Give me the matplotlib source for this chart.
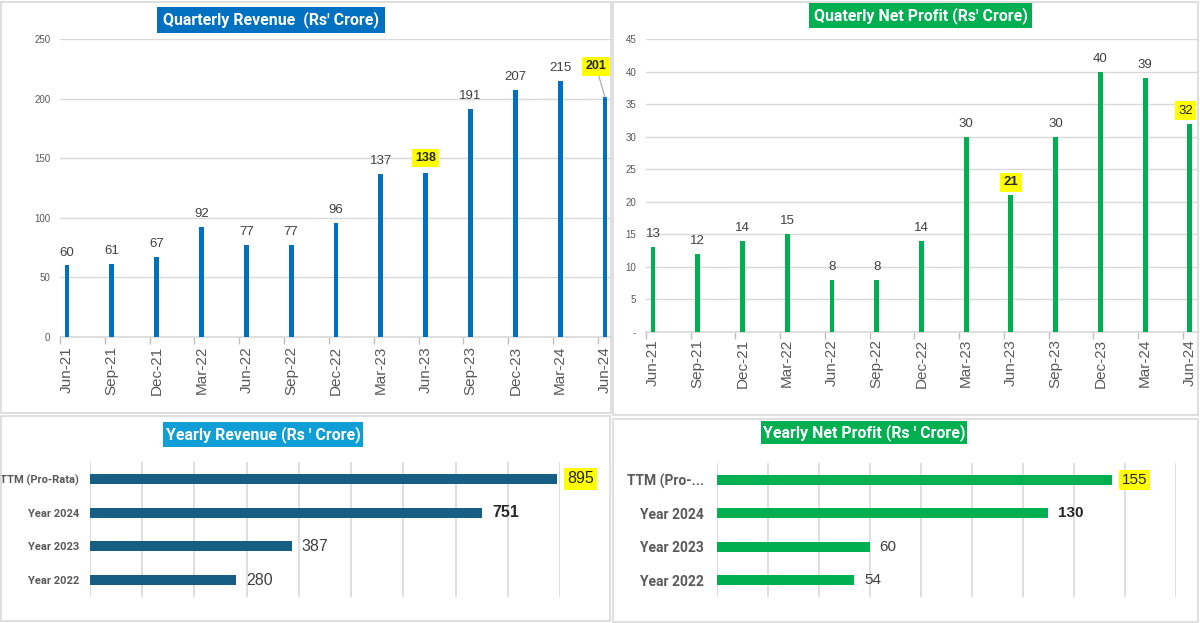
import numpy as np
import matplotlib
matplotlib.use('Agg')
import matplotlib.pyplot as plt
import matplotlib.patches as patches
from matplotlib.transforms import Bbox, TransformedBbox

plt.rcParams['font.family'] = ['Liberation Sans', 'DejaVu Sans']

# data
quarters = ['Jun-21', 'Sep-21', 'Dec-21', 'Mar-22', 'Jun-22', 'Sep-22', 'Dec-22',
            'Mar-23', 'Jun-23', 'Sep-23', 'Dec-23', 'Mar-24', 'Jun-24']
q_revenue = [60, 61, 67, 92, 77, 77, 96, 137, 138, 191, 207, 215, 201]
q_profit = [13, 12, 14, 15, 8, 8, 14, 30, 21, 30, 40, 39, 32]
years_rev = ['TTM (Pro-Rata)', 'Year 2024', 'Year 2023', 'Year 2022']
years_pro = ['TTM (Pro-...', 'Year 2024', 'Year 2023', 'Year 2022']
y_revenue = [895, 751, 387, 280]
y_profit = [155, 130, 60, 54]

W, H = 1200, 623
GRID = '#D9D9D9'
TXT = '#404040'
NARROW = ['Roboto', 'Liberation Sans', 'DejaVu Sans']


def rect(x0, y0, x1, y1):
    # pixel box (top-left origin) -> figure fraction [l, b, w, h]
    return [x0 / W, 1 - y1 / H, (x1 - x0) / W, (y1 - y0) / H]


fig = plt.figure(figsize=(12, 6.23), dpi=100)
fig.patch.set_facecolor('white')


def border(x0, y0, x1, y1):
    l, b, w, h = rect(x0, y0, x1, y1)
    fig.add_artist(patches.Rectangle((l, b), w, h, transform=fig.transFigure,
                                     fill=False, edgecolor=GRID, linewidth=1.2))
    return TransformedBbox(Bbox.from_extents(l, b, l + w, b + h), fig.transFigure)


def title_box(x0, y0, x1, y1, text, color, size=11.4):
    l, b, w, h = rect(x0, y0, x1, y1)
    fig.add_artist(patches.Rectangle((l, b), w, h, transform=fig.transFigure,
                                     facecolor=color, edgecolor='none'))
    fig.text(l + w / 2, b + h / 2, text, ha='center', va='center', color='white',
             fontsize=size, fontweight='bold', family=NARROW)


def quarterly(ax, values, color, ymax, step, right, pad_x, zero_dash):
    x = np.arange(len(values))
    ax.bar(x, values, width=0.11, color=color, zorder=3)
    ax.set_xlim(-0.156, right)
    ax.set_ylim(0, ymax)
    yt = np.arange(0, ymax + 1, step)
    ax.set_yticks(yt)
    ax.set_yticklabels(['-' if (v == 0 and zero_dash) else str(v) for v in yt])
    ax.grid(axis='y', color=GRID, linewidth=1, zorder=0)
    for s in ['top', 'right', 'left']:
        ax.spines[s].set_visible(False)
    ax.spines['bottom'].set_color(GRID)
    ax.spines['bottom'].set_linewidth(1.2)
    ax.set_xticks(x)
    ax.set_xticklabels(quarters, rotation=90, fontsize=11, color='#595959')
    ax.set_xticks(x - 0.156, minor=True)
    ax.tick_params(axis='x', which='major', length=0, pad=pad_x)
    ax.tick_params(axis='x', which='minor', length=5, color='#BFBFBF', width=1)
    ax.tick_params(axis='y', length=0, pad=7, labelsize=7, labelcolor='#595959')
    return x


# ---------------- top left: quarterly revenue ----------------
bb1 = border(1, 2, 611, 413)
ax1 = fig.add_axes(rect(60, 39, 611, 337))
x = quarterly(ax1, q_revenue, '#0070C0', 250, 50, 12.134, 6.5, False)
for i, v in enumerate(q_revenue):
    if i == 8:
        ax1.annotate(str(v), (i, v), xytext=(0, 6), textcoords='offset points',
                     ha='center', va='bottom', fontsize=9, fontweight='bold', color='#262626',
                     bbox=dict(boxstyle='square,pad=0.25', facecolor='#FFFF00', edgecolor='none'))
    elif i == 12:
        ax1.annotate(str(v), (i, v), xytext=(i - 0.2, v + 26), textcoords='data',
                     ha='center', va='center', fontsize=9, fontweight='bold', color='#262626',
                     bbox=dict(boxstyle='square,pad=0.25', facecolor='#FFFF00', edgecolor='none'),
                     arrowprops=dict(arrowstyle='-', color='#A6A6A6', lw=0.8,
                                     shrinkA=0, shrinkB=0), annotation_clip=False)
    else:
        ax1.annotate(str(v), (i, v), xytext=(0, 5), textcoords='offset points',
                     ha='center', va='bottom', fontsize=9.5, color=TXT)
for lbl in ax1.get_xticklabels():
    lbl.set_clip_box(bb1)
    lbl.set_clip_on(True)

# ---------------- top right: quarterly profit ----------------
bb2 = border(613, 2, 1198, 415)
ax2 = fig.add_axes(rect(646, 39, 1198, 332))
x = quarterly(ax2, q_profit, '#00B050', 45, 5, 12.18, 5, True)
for i, v in enumerate(q_profit):
    if i in (8, 12):
        ax2.annotate(str(v), (i, v), xytext=(-3 if i == 12 else 0, 5),
                     textcoords='offset points', ha='center', va='bottom', fontsize=9.5,
                     fontweight='bold' if i == 8 else 'normal', color='#262626',
                     bbox=dict(boxstyle='square,pad=0.25', facecolor='#FFFF00', edgecolor='none'),
                     annotation_clip=False)
    else:
        ax2.annotate(str(v), (i, v), xytext=(0, 5), textcoords='offset points',
                     ha='center', va='bottom', fontsize=9.5, color=TXT)


def yearly(ax, labels, values, color, xmax, step, lblsize, valsize, pad):
    y = np.arange(len(values))
    ax.barh(y, values, height=0.3, color=color, zorder=3)
    ax.set_xlim(0, xmax)
    ax.set_ylim(3.5, -0.5)
    ax.set_xticks(np.arange(0, xmax + 1, step))
    ax.set_xticklabels([])
    ax.grid(axis='x', color=GRID, linewidth=1.2, zorder=0)
    for s in ax.spines.values():
        s.set_visible(False)
    ax.set_yticks(y)
    ax.set_yticklabels(labels, fontsize=lblsize, fontweight='bold', color='#595959',
                       family=NARROW)
    ax.tick_params(length=0)
    ax.tick_params(axis='y', pad=pad)
    for i, v in enumerate(values):
        if i == 0:
            ax.annotate(str(v), (v, i), xytext=(7, 0), textcoords='offset points',
                        ha='left', va='center', fontsize=valsize, color='#262626',
                        bbox=dict(boxstyle='square,pad=0.2', facecolor='#FFFF00', edgecolor='none'),
                        annotation_clip=False)
        elif i == 1:
            ax.annotate(str(v), (v, i), xytext=(7, 0), textcoords='offset points',
                        ha='left', va='center', fontsize=valsize, fontweight='bold',
                        color='#262626', annotation_clip=False)
        else:
            ax.annotate(str(v), (v, i), xytext=(7, 0), textcoords='offset points',
                        ha='left', va='center', fontsize=valsize, color=TXT,
                        annotation_clip=False)


# ---------------- bottom left: yearly revenue ----------------
border(1, 416, 610, 621)
ax3 = fig.add_axes(rect(90, 462, 560, 597))
yearly(ax3, years_rev, y_revenue, '#165E83', 900, 100, 8, 11.5, 8)

# ---------------- bottom right: yearly profit ----------------
border(613, 419, 1198, 622)
ax4 = fig.add_axes(rect(716.5, 463, 1176, 597))
yearly(ax4, years_pro, y_profit, '#00B050', 180, 20, 10, 11, 9)

title_box(157, 7, 385, 33, "Quarterly Revenue  (Rs' Crore)", '#0070C0')
title_box(809, 3, 1032, 28, "Quaterly Net Profit (Rs' Crore)", '#00B050')
title_box(163, 422, 363, 447, "Yearly Revenue (Rs ' Crore)", '#0F9ED5')
title_box(761, 421, 967, 444, "Yearly Net Profit (Rs ' Crore)", '#00B050')

fig.savefig('out.png', dpi=100)
plt.close()
